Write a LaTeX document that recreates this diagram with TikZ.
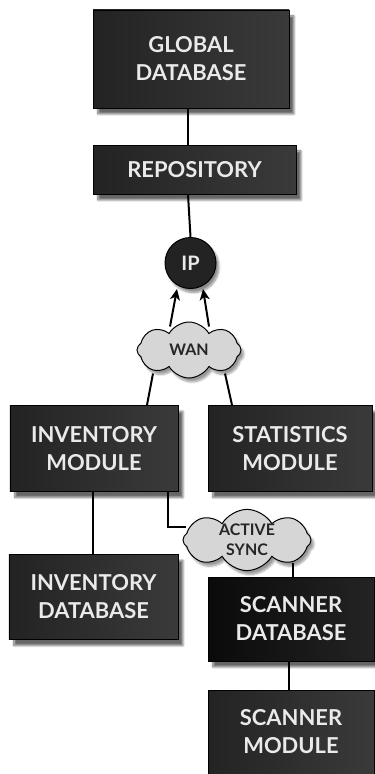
\documentclass[tikz,border=0pt]{standalone}
\usepackage{fontspec}
\setmainfont{Lato}
\usetikzlibrary{shapes.symbols,shadows.blur,arrows.meta,calc}
\definecolor{boxdark}{HTML}{232323}
\definecolor{boxlight}{HTML}{3A3A3A}
\definecolor{boxtext}{HTML}{EAEAEA}
\definecolor{cloudfill}{HTML}{D6D6D6}
\tikzset{
  box/.style={draw=black, line width=1pt, left color=boxdark, right color=boxlight,
    text=boxtext, font=\fontsize{22}{28}\selectfont\bfseries, align=center,
    inner sep=0pt, blur shadow={shadow xshift=5pt, shadow yshift=-6pt, shadow blur steps=10, shadow opacity=60}},
  darkbox/.style={box, left color=black!96, right color=black!86},
  ipnode/.style={circle, draw=black, line width=1pt, fill=boxdark, text=boxtext,
    font=\fontsize{20}{20}\selectfont\bfseries, minimum size=51bp, inner sep=0pt,
    blur shadow={shadow xshift=3pt, shadow yshift=-4pt, shadow blur steps=8, shadow opacity=45}},
  cloudnode/.style={cloud, cloud puffs=8, cloud puff arc=120, aspect=2, draw=black, line width=1pt, fill=cloudfill,
    text=black!85, font=\fontsize{16}{20}\selectfont\bfseries, align=center, inner sep=0pt,
    blur shadow={shadow xshift=3pt, shadow yshift=-4pt, shadow blur steps=8, shadow opacity=40}},
  link/.style={line width=2pt, draw=black},
  arrowlink/.style={link, -{Stealth[length=11pt, width=10pt, inset=3pt]}},
}
\begin{document}
\begin{tikzpicture}[x=1bp, y=-1bp]
\useasboundingbox (0,0) rectangle (374,774);
\node[box, minimum width=196bp, minimum height=98bp] (gdb) at (191,59) {GLOBAL\\DATABASE};
\node[box, minimum width=203bp, minimum height=49bp] (repo) at (194.5,169.5) {REPOSITORY};
\node[ipnode] (ip) at (190.5,263) {IP};
\node[cloudnode, minimum width=104bp, minimum height=56bp] (wan) at (189,350) {WAN};
\node[box, minimum width=168bp, minimum height=86bp] (invm) at (94,448.5) {INVENTORY\\MODULE};
\node[box, minimum width=164bp, minimum height=86bp] (stat) at (290,448.5) {STATISTICS\\MODULE};
\node[box, minimum width=169bp, minimum height=85bp] (invdb) at (93.5,597) {INVENTORY\\DATABASE};
\node[cloudnode, minimum width=128bp, minimum height=56bp] (sync) at (247,540) {ACTIVE\\SYNC};
\node[darkbox, minimum width=166bp, minimum height=84bp] (scdb) at (291,619) {SCANNER\\DATABASE};
\node[box, minimum width=166bp, minimum height=84bp] (scm) at (291,732) {SCANNER\\MODULE};
\coordinate (syncin) at (186,527);
% connectors
\draw[link] (gdb.south -| 188,0) -- (repo.north -| 188,0);
\draw[link] (repo.south -| 188,0) -- (ip.north);
\draw[arrowlink] (wan.north -| 170,0) ++(0,5) -- (177,289);
\draw[arrowlink] (wan.north -| 209,0) ++(0,5) -- (203,289);
\draw[link] (invm.north -| 147,0) -- ($(wan.south)+(-36,-5)$);
\draw[link] (stat.north -| 232,0) -- ($(wan.south)+(36,-5)$);
\draw[link] (invm.south -| 93,0) -- (invdb.north -| 93,0);
\draw[link] (invm.south -| 168,0) |- (syncin);
\draw[link] ($(sync.south)+(46,-8)$) -- (scdb.north -| 293,0);
\draw[link] (scdb.south -| 289,0) -- (scm.north -| 289,0);
\end{tikzpicture}
\end{document}
